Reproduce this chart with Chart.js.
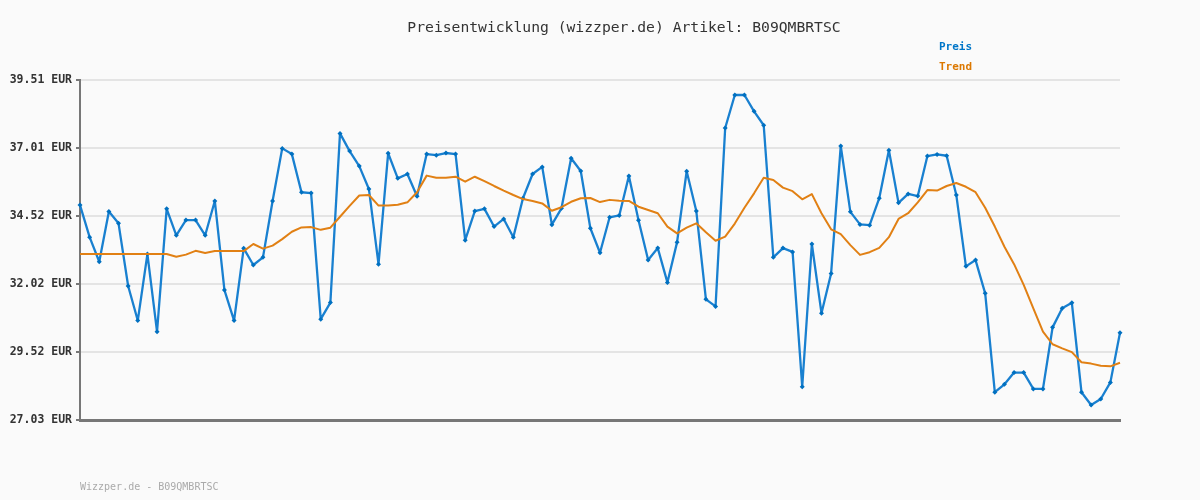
<!DOCTYPE html>
<html>
<head>
<meta charset="utf-8">
<script src="https://cdn.jsdelivr.net/npm/chart.js@4/dist/chart.umd.min.js"></script>
<style>
  html, body { margin: 0; padding: 0; background: #fafafa; }
  canvas { display: block; }
</style>
</head>
<body>
<canvas id="chart" width="1200" height="500"></canvas>
<script>
// Werte
var tage = [];
for (var i = 0; i < 109; i++) tage.push(i + 1);

var preis = [
  34.92, 33.74, 32.84, 34.68, 34.25, 31.95, 30.68, 33.12, 30.27, 34.78,
  33.81, 34.37, 34.37, 33.81, 35.07, 31.80, 30.68, 33.33, 32.72, 33.00,
  35.07, 37.00, 36.79, 35.39, 35.36, 30.73, 31.34, 37.55, 36.90, 36.35,
  35.51, 32.75, 36.82, 35.90, 36.06, 35.24, 36.79, 36.75, 36.83, 36.79,
  33.63, 34.70, 34.78, 34.13, 34.41, 33.74, 35.17, 36.06, 36.32, 34.20,
  34.80, 36.64, 36.17, 34.07, 33.17, 34.47, 34.54, 35.99, 34.36, 32.90,
  33.34, 32.08, 33.55, 36.16, 34.70, 31.46, 31.20, 37.75, 38.96, 38.96,
  38.36, 37.85, 33.00, 33.34, 33.20, 28.25, 33.49, 30.95, 32.41, 37.09,
  34.67, 34.21, 34.18, 35.17, 36.93, 35.00, 35.33, 35.25, 36.72, 36.78,
  36.73, 35.29, 32.67, 32.90, 31.68, 28.05, 28.34, 28.77, 28.77, 28.17,
  28.17, 30.43, 31.13, 31.33, 28.05, 27.58, 27.80, 28.41, 30.23
];

var trend = [
  33.12, 33.12, 33.12, 33.12, 33.12, 33.12, 33.12, 33.12, 33.12, 33.12,
  33.02, 33.10, 33.24, 33.16, 33.23, 33.23, 33.23, 33.23, 33.49, 33.32,
  33.43, 33.67, 33.94, 34.10, 34.11, 34.01, 34.09, 34.49, 34.89, 35.27,
  35.29, 34.90, 34.90, 34.93, 35.02, 35.39, 36.00, 35.92, 35.92, 35.96,
  35.78, 35.96, 35.80, 35.62, 35.45, 35.29, 35.14, 35.07, 34.98, 34.71,
  34.84, 35.04, 35.17, 35.18, 35.03, 35.11, 35.08, 35.07, 34.86, 34.74,
  34.62, 34.13, 33.88, 34.09, 34.25, 33.92, 33.61, 33.76, 34.24, 34.82,
  35.35, 35.92, 35.84, 35.56, 35.43, 35.13, 35.32, 34.62, 34.03, 33.85,
  33.45, 33.09, 33.19, 33.35, 33.74, 34.41, 34.62, 35.02, 35.47, 35.45,
  35.62, 35.73, 35.59, 35.39, 34.82, 34.13, 33.39, 32.75, 31.99, 31.13,
  30.27, 29.81, 29.66, 29.52, 29.15, 29.10, 29.02, 29.00, 29.13
];

var yTicks = [27.03, 29.526, 32.022, 34.518, 37.014, 39.51];
var yTickLabels = ["27.03 EUR", "29.52 EUR", "32.02 EUR", "34.52 EUR", "37.01 EUR", "39.51 EUR"];

var titel = "Preisentwicklung (wizzper.de) Artikel: B09QMBRTSC";
var fusszeile = "Wizzper.de - B09QMBRTSC";

var blau = "rgb(25, 128, 208)";
var orange = "rgb(225, 128, 20)";

var texte = {
  id: "texte",
  beforeDraw: function (chart) {
    var c = chart.ctx;
    c.save();
    c.fillStyle = "#fafafa";
    c.fillRect(0, 0, chart.width, chart.height);
    c.restore();
  },
  afterDraw: function (chart) {
    var c = chart.ctx;
    c.save();
    c.textBaseline = "middle";
    c.textAlign = "center";
    c.fillStyle = "#333";
    c.font = "14.7px 'DejaVu Sans Mono'";
    c.fillText(titel, 624, 28);

    c.textAlign = "left";
    c.font = "bold 11px 'DejaVu Sans Mono'";
    c.fillStyle = "rgb(0, 118, 200)";
    c.fillText("Preis", 939, 47);
    c.fillStyle = "rgb(220, 120, 0)";
    c.fillText("Trend", 939, 67);

    c.font = "10px 'DejaVu Sans Mono'";
    c.fillStyle = "#aaa";
    c.fillText(fusszeile, 80, 487);
    c.restore();
  }
};

var chart = new Chart("chart", {
  type: "line",
  data: {
    labels: tage,
    datasets: [
      {
        label: "Trend",
        data: trend,
        borderColor: orange,
        borderWidth: 2,
        borderJoinStyle: "round",
        pointRadius: 0,
        tension: 0
      },
      {
        label: "Preis",
        data: preis,
        borderColor: blau,
        backgroundColor: "rgb(0, 112, 192)",
        borderWidth: 2.3,
        borderJoinStyle: "round",
        pointStyle: "rectRot",
        pointRadius: 2.5,
        pointBorderWidth: 0,
        tension: 0
      }
    ]
  },
  options: {
    responsive: false,
    animation: false,
    layout: { padding: { left: 0, right: 80, top: 80, bottom: 80 } },
    plugins: {
      legend: { display: false },
      title: { display: false },
      tooltip: { enabled: false }
    },
    scales: {
      x: {
        offset: false,
        ticks: { display: false },
        grid: { display: false, drawTicks: false },
        border: { display: true, color: "#777", width: 3 },
        afterFit: function (s) { s.height = 0; }
      },
      y: {
        min: 27.03,
        max: 39.51,
        afterBuildTicks: function (s) {
          s.ticks = yTicks.map(function (v) { return { value: v }; });
        },
        afterFit: function (s) { s.width = 80; },
        ticks: {
          padding: 4,
          color: "#333",
          font: { family: "'DejaVu Sans Mono'", size: 11.5, weight: "bold" },
          callback: function (v, i) { return yTickLabels[i]; }
        },
        grid: { color: "#e4e4e4", lineWidth: 2, tickLength: 4, tickColor: "#777" },
        border: { display: true, color: "#777", width: 2 }
      }
    }
  },
  plugins: [texte]
});
</script>
</body>
</html>
